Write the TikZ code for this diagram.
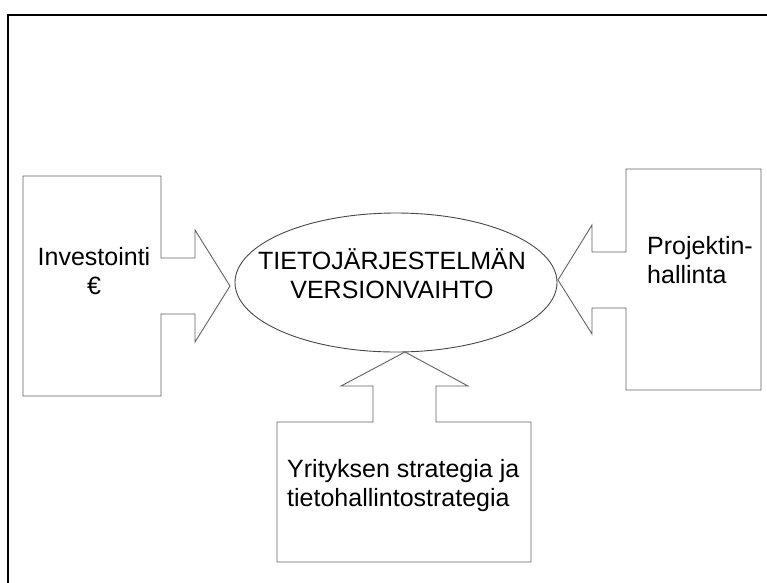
\documentclass[tikz,border=0pt]{standalone}
\usepackage{fontspec}
\setmainfont{Liberation Sans}
\usetikzlibrary{shapes.geometric}
\tikzset{
  shapeline/.style={draw=black!62, line width=0.9pt, line join=miter},
  frameline/.style={draw=black, line width=2.8pt},
  lbl/.style={inner sep=0pt, font=\fontsize{25}{29.5}\selectfont},
}
\begin{document}
\begin{tikzpicture}[x=1pt,y=-1pt]
\useasboundingbox (0,0) rectangle (767,582);
% outer frame (open at right and bottom)
\draw[frameline] (8,585) -- (8,15) -- (770,15);
% central ellipse
\node (c) [shapeline, draw=black!72, ellipse, minimum width=322pt, minimum height=139pt, inner sep=0pt] at (396,282.5) {};
\node (ctxt) [lbl, align=center, anchor=base] at (392,298.5) {TIETOJÄRJESTELMÄN\\VERSIONVAIHTO};
% left callout
\draw[shapeline] (23,176) -- (161,176) -- (161,258) -- (195,258) -- (195,230)
  -- (230,286) coordinate (ltip) -- (195,342) -- (195,314) -- (161,314) -- (161,396) -- (23,396) -- cycle;
\node (ltxt) [lbl, align=center, anchor=base] at (94,294.5) {Investointi\\€};
% right callout
\draw[shapeline] (761,169) -- (626,169) -- (626,252) -- (592,252) -- (592,225)
  -- (558,280) coordinate (rtip) -- (592,334) -- (592,308) -- (626,308) -- (626,390) -- (761,390) -- cycle;
\node (rtxt) [lbl, align=left, anchor=base west] at (647,283.5) {Projektin-\\hallinta};
% bottom callout
\draw[shapeline] (277,562) -- (277,422) -- (373,422) -- (373,386) -- (341,386)
  -- (405,352) coordinate (btip) -- (468,386) -- (436,386) -- (436,422) -- (531,422) -- (531,562) -- cycle;
\node (btxt) [lbl, align=left, anchor=base west] at (287,506.5) {Yrityksen strategia ja\\tietohallintostrategia};
\end{tikzpicture}
\end{document}
